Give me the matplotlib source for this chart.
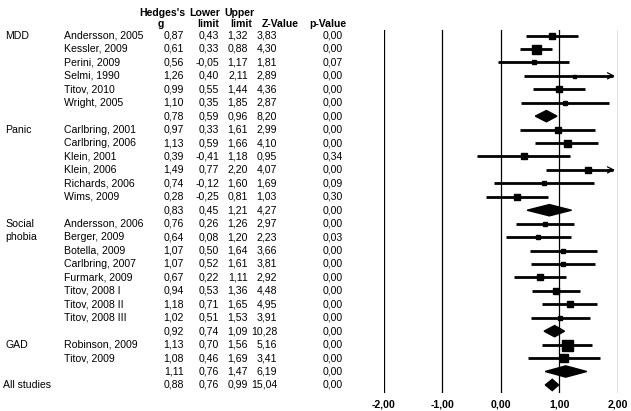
import numpy as np
import matplotlib
matplotlib.use("Agg")
import matplotlib.pyplot as plt
from matplotlib.patches import Polygon
from matplotlib.transforms import blended_transform_factory

plt.rcParams['font.family'] = ['Liberation Sans', 'DejaVu Sans']

# study level data
group_names = ["MDD", "Panic", "Social phobia", "GAD"]
study_group = [0, 0, 0, 0, 0, 0,
               1, 1, 1, 1, 1, 1,
               2, 2, 2, 2, 2, 2, 2, 2,
               3, 3]
study_names = ["Andersson, 2005", "Kessler, 2009", "Perini, 2009", "Selmi, 1990",
               "Titov, 2010", "Wright, 2005",
               "Carlbring, 2001", "Carlbring, 2006", "Klein, 2001", "Klein, 2006",
               "Richards, 2006", "Wims, 2009",
               "Andersson, 2006", "Berger, 2009", "Botella, 2009", "Carlbring, 2007",
               "Furmark, 2009", "Titov, 2008 I", "Titov, 2008 II", "Titov, 2008 III",
               "Robinson, 2009", "Titov, 2009"]
hedges_g = [0.87, 0.61, 0.56, 1.26, 0.99, 1.10,
            0.97, 1.13, 0.39, 1.49, 0.74, 0.28,
            0.76, 0.64, 1.07, 1.07, 0.67, 0.94, 1.18, 1.02,
            1.13, 1.08]
lower_limit = [0.43, 0.33, -0.05, 0.40, 0.55, 0.35,
               0.33, 0.59, -0.41, 0.77, -0.12, -0.25,
               0.26, 0.08, 0.50, 0.52, 0.22, 0.53, 0.71, 0.51,
               0.70, 0.46]
upper_limit = [1.32, 0.88, 1.17, 2.11, 1.44, 1.85,
               1.61, 1.66, 1.18, 2.20, 1.60, 0.81,
               1.26, 1.20, 1.64, 1.61, 1.11, 1.36, 1.65, 1.53,
               1.56, 1.69]
z_value = [3.83, 4.30, 1.81, 2.89, 4.36, 2.87,
           2.99, 4.10, 0.95, 4.07, 1.69, 1.03,
           2.97, 2.23, 3.66, 3.81, 2.92, 4.48, 4.95, 3.91,
           5.16, 3.41]
p_value = [0.00, 0.00, 0.07, 0.00, 0.00, 0.00,
           0.00, 0.00, 0.34, 0.00, 0.09, 0.30,
           0.00, 0.03, 0.00, 0.00, 0.00, 0.00, 0.00, 0.00,
           0.00, 0.00]
# relative weights (square area)
weights = [36, 81, 25, 9, 36, 12,
           36, 49, 30, 36, 20, 36,
           25, 25, 25, 22, 36, 30, 30, 25,
           121, 64]

# subgroup summaries
summary_g = [0.78, 0.83, 0.92, 1.11]
summary_lower = [0.59, 0.45, 0.74, 0.76]
summary_upper = [0.96, 1.21, 1.09, 1.47]
summary_z = [8.20, 4.27, 10.28, 6.19]
summary_p = [0.00, 0.00, 0.00, 0.00]

# overall
overall = {"g": 0.88, "lower": 0.76, "upper": 0.99, "z": 15.04, "p": 0.00}

x_ticks = [-2, -1, 0, 1, 2]


def fmt(v):
    return f"{v:.2f}".replace(".", ",")


W, H = 631, 411
fig = plt.figure(figsize=(W / 100, H / 100), dpi=100)

# axis area in pixels
ax_left, ax_right = 384, 617.7
ax_top, ax_bottom = 30, 393
row0, row_step = 35.5, 13.44
ax = fig.add_axes([ax_left / W, 1 - ax_bottom / H,
                   (ax_right - ax_left) / W, (ax_bottom - ax_top) / H])
ax.set_xlim(-2, 2)
ax.set_ylim((ax_bottom - row0) / row_step, (ax_top - row0) / row_step)
for s in ax.spines.values():
    s.set_visible(False)
ax.set_yticks([])
ax.set_xticks(x_ticks)
ax.set_xticklabels([fmt(t) for t in x_ticks], fontsize=7.6, fontweight='bold')
ax.tick_params(axis='x', length=0, pad=5)
for t in x_ticks:
    ax.axvline(t, color='black', lw=0.9, zorder=1)

trans = blended_transform_factory(fig.transFigure, ax.transData)
fs = 7.6


def put(xpx, row, s, ha='left', **kw):
    ax.text(xpx / W, row, s, transform=trans, ha=ha, va='center',
            fontsize=fs, clip_on=False, **kw)


col_right = [184, 219, 248, 277, 343]


def put_values(row, vals):
    for xr, v in zip(col_right, vals):
        put(xr, row, fmt(v), ha='right')


# headers (in pixel rows)
def hdr(xpx, ypx, s):
    fig.text(xpx / W, 1 - ypx / H, s, ha='center', va='center',
             fontsize=fs, fontweight='bold')


hdr(162, 13, "Hedges's")
hdr(161, 24, "g")
hdr(205, 13, "Lower")
hdr(208, 24, "limit")
hdr(239, 13, "Upper")
hdr(241, 24, "limit")
hdr(280, 24, "Z-Value")
hdr(328, 24, "p-Value")


def diamond(row, g, lo, hi, h=0.42):
    ax.add_patch(Polygon([(lo, row), (g, row - h), (hi, row), (g, row + h)],
                         closed=True, color='black', zorder=3))


row = 0
for gi, gname in enumerate(group_names):
    idx = [i for i, g in enumerate(study_group) if g == gi]
    words = gname.split(" ")
    for k, wd in enumerate(words):
        put(5, row + k, wd)
    for i in idx:
        put(64, row, study_names[i])
        put_values(row, [hedges_g[i], lower_limit[i], upper_limit[i],
                         z_value[i], p_value[i]])
        lo = max(lower_limit[i], -2)
        hi = min(upper_limit[i], 2)
        if upper_limit[i] > 2:
            # interval runs off the scale: draw an arrow at the edge
            ax.plot([lo, 1.92], [row, row], color='black', lw=2.0,
                    solid_capstyle='butt', zorder=2)
            ax.annotate('', xy=(2.0, row), xytext=(1.8, row),
                        arrowprops=dict(arrowstyle='->', lw=0.9,
                                        mutation_scale=11, color='black'),
                        zorder=2)
        else:
            ax.plot([lo, hi], [row, row], color='black', lw=2.0,
                    solid_capstyle='butt', zorder=2)
        ax.plot(hedges_g[i], row, marker='s', color='black',
                markersize=np.sqrt(weights[i]) * 0.72, zorder=3)
        row += 1
    put_values(row, [summary_g[gi], summary_lower[gi], summary_upper[gi],
                     summary_z[gi], summary_p[gi]])
    diamond(row, summary_g[gi], summary_lower[gi], summary_upper[gi])
    row += 1

put(3, row, "All studies")
put_values(row, [overall["g"], overall["lower"], overall["upper"],
                 overall["z"], overall["p"]])
diamond(row, overall["g"], overall["lower"], overall["upper"])

fig.savefig("out.png", dpi=100)
